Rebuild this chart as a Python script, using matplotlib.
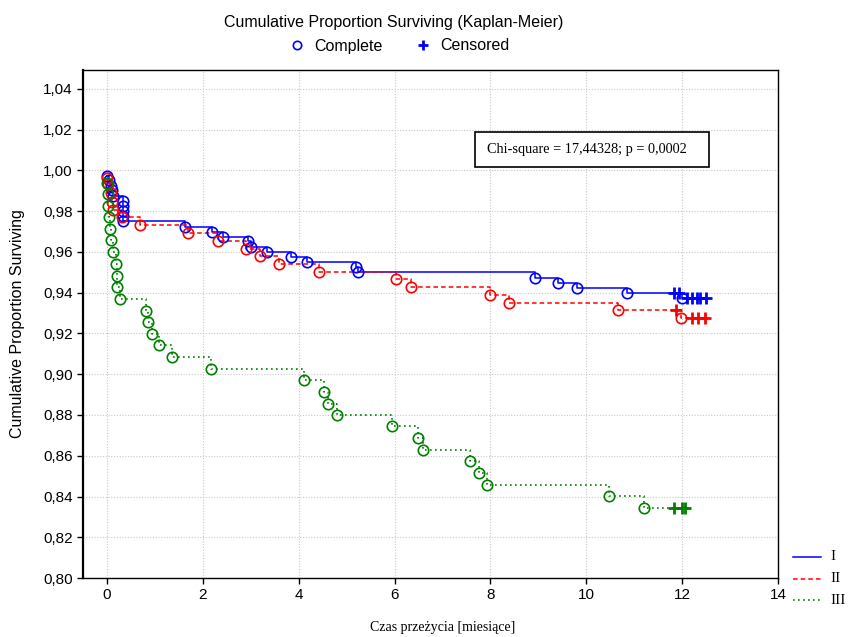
import numpy as np
import matplotlib
matplotlib.use("Agg")
import matplotlib.pyplot as plt
from matplotlib.lines import Line2D
from matplotlib.patches import Rectangle

# Kaplan-Meier data (time in months, survival)
blue_t = [0.0, 0.04, 0.08, 0.10, 0.12, 0.33, 0.33, 0.33, 0.33, 0.33, 1.63, 2.20, 2.41,
          2.95, 3.00, 3.33, 3.84, 4.17, 5.20, 5.23, 8.94, 9.41, 9.80, 10.84, 12.00]
blue_s = [0.9975, 0.9951, 0.9926, 0.9902, 0.9877, 0.9850, 0.9825, 0.9800, 0.9776, 0.9751,
          0.9724, 0.9699, 0.9674, 0.9652, 0.9626, 0.9600, 0.9575, 0.9550, 0.9525, 0.9500,
          0.9474, 0.9450, 0.9425, 0.9400, 0.9376]
blue_cens = [11.84, 11.94, 12.10, 12.20, 12.30, 12.38, 12.50]

red_t = [0.0, 0.03, 0.08, 0.11, 0.13, 0.32, 0.68, 1.70, 2.32, 2.90, 3.19, 3.58, 4.42,
         6.03, 6.35, 8.00, 8.38, 10.67, 11.98]
red_s = [0.9962, 0.9936, 0.9890, 0.9846, 0.9805, 0.9771, 0.9731, 0.9694, 0.9655, 0.9615,
         0.9579, 0.9540, 0.9503, 0.9466, 0.9427, 0.9389, 0.9352, 0.9313, 0.9278]
red_cens = [11.88, 12.20, 12.34, 12.48]

green_t = [0.0, 0.02, 0.02, 0.04, 0.06, 0.08, 0.13, 0.19, 0.21, 0.21, 0.28, 0.81, 0.86,
           0.93, 1.09, 1.36, 2.16, 4.10, 4.52, 4.61, 4.80, 5.94, 6.48, 6.60, 7.58, 7.77,
           7.93, 10.48, 11.20]
green_s = [0.9938, 0.9886, 0.9828, 0.9771, 0.9714, 0.9658, 0.9600, 0.9541, 0.9483, 0.9427,
           0.9368, 0.9312, 0.9255, 0.9198, 0.9142, 0.9087, 0.9028, 0.8973, 0.8912, 0.8856,
           0.8801, 0.8744, 0.8687, 0.8629, 0.8576, 0.8515, 0.8458, 0.8401, 0.8344]
green_cens = [11.82, 12.00, 12.05]

group_labels = ["I", "II", "III"]
yticks = [0.80, 0.82, 0.84, 0.86, 0.88, 0.90, 0.92, 0.94, 0.96, 0.98, 1.00, 1.02, 1.04]
xticks = [0, 2, 4, 6, 8, 10, 12, 14]

SANS = "Liberation Sans"
SERIF = "Liberation Serif"

fig = plt.figure(figsize=(8.49, 6.37), dpi=100)
ax = fig.add_axes([0.0978, 0.0926, 0.8186, 0.7975])

styles = [("#0000ff", "-", 1.1), ("#ff0000", (0, (3, 2)), 1.1), ("#008000", (0, (1, 2)), 1.2)]
groups = [(blue_t, blue_s, blue_cens), (red_t, red_s, red_cens), (green_t, green_s, green_cens)]

for (t, s, cens), (col, ls, lw) in zip(groups, styles):
    t = np.array(t)
    s = np.array(s)
    line_t = np.append(t, max(cens))
    line_s = np.append(s, s[-1])
    ax.plot(line_t, line_s, color=col, linestyle=ls, linewidth=lw, drawstyle="steps-post", zorder=2)
    ax.plot(t, s, linestyle="none", marker="o", markersize=7.5, markerfacecolor="none",
            markeredgecolor=col, markeredgewidth=1.2, zorder=3)
    # survival level at each censored time
    idx = np.searchsorted(t, cens, side="right") - 1
    ax.plot(cens, s[idx], linestyle="none", marker="+", markersize=8,
            markeredgecolor=col, markeredgewidth=2, zorder=3)

ax.set_xlim(-0.5, 14)
ax.set_ylim(0.80, 1.0493)
ax.set_xticks(xticks)
ax.set_yticks(yticks)
ax.set_xticklabels([str(v) for v in xticks], fontfamily=SANS, fontsize=11)
ax.set_yticklabels([f"{v:.2f}".replace(".", ",") for v in yticks], fontfamily=SANS, fontsize=11)
ax.tick_params(direction="out", length=4, width=1, colors="black")
ax.grid(True, color="#c8c8c8", linestyle=(0, (1, 1.5)), linewidth=0.8)
ax.set_axisbelow(True)
for sp in ax.spines.values():
    sp.set_linewidth(1.0)
ax.spines["left"].set_linewidth(1.6)

fig.text(18 / 849, 0.4914, "Cumulative Proportion Surviving", rotation=90,
         ha="center", va="center", fontfamily=SANS, fontsize=11.5)
fig.text(443 / 849, 1 - 627 / 637, "Czas przeżycia [miesiące]", ha="center", va="center",
         fontfamily=SERIF, fontsize=10)

fig.text(394 / 849, 1 - 22 / 637, "Cumulative Proportion Surviving (Kaplan-Meier)",
         ha="center", va="center", fontfamily=SANS, fontsize=11.5)
top_handles = [
    Line2D([], [], linestyle="none", marker="o", markersize=6, markerfacecolor="none",
           markeredgecolor="#0000ff", markeredgewidth=1.2),
    Line2D([], [], linestyle="none", marker="+", markersize=7, markeredgecolor="#0000ff",
           markeredgewidth=2),
]
fig.legend(top_handles, ["Complete", "Censored"], loc="center", bbox_to_anchor=(399 / 849, 1 - 46 / 637),
           ncol=2, frameon=False, handlelength=1.0, handletextpad=0.6, columnspacing=2.0,
           prop={"family": SANS, "size": 11.5})

# chi-square box
fig.add_artist(Rectangle((475 / 849, 1 - 167 / 637), 234 / 849, 35 / 637, transform=fig.transFigure,
                         facecolor="white", edgecolor="black", linewidth=1.2, zorder=5))
fig.text(487 / 849, 1 - 150 / 637, "Chi-square = 17,44328; p = 0,0002", ha="left", va="center",
         fontfamily=SERIF, fontsize=10.3, zorder=6)

# group legend at bottom right
for i, ((col, ls, lw), lab) in enumerate(zip(styles, group_labels)):
    yy = 1 - (557 + 21.5 * i) / 637
    fig.add_artist(Line2D([793 / 849, 821 / 849], [yy, yy], color=col, linestyle=ls,
                          linewidth=lw, transform=fig.transFigure))
    fig.text(830 / 849, yy, lab, ha="left", va="center", fontfamily=SERIF, fontsize=11)

fig.savefig("out.png", dpi=100)
